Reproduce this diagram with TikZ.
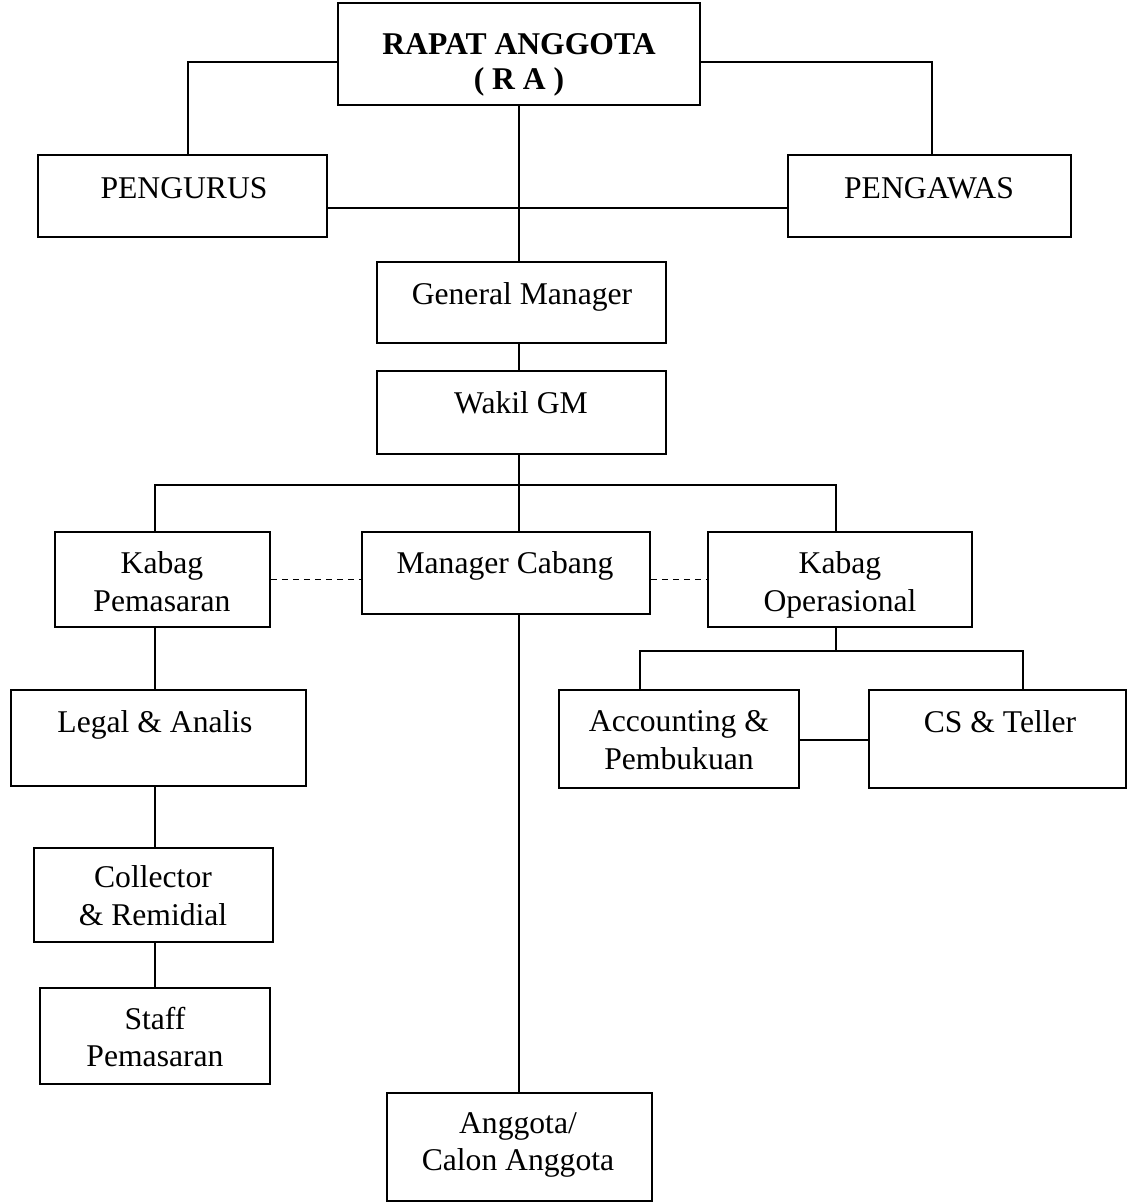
\documentclass[tikz,border=0pt]{standalone}
\usepackage{fontspec}
\setmainfont{Liberation Serif}
\usetikzlibrary{calc,fit,positioning}

\begin{document}
\begin{tikzpicture}[x=0.2mm,y=-0.2mm,line width=0.3mm,
                    box/.style={draw,inner sep=0pt},
                    txt/.style={align=center,inner sep=0pt,font=\fontsize{18}{21.5}\selectfont},
                    dashlink/.style={draw,dash pattern=on 1.3mm off 0.9mm}]

  \useasboundingbox (0,0) rectangle (1127,1202);

  % boxes
  \node[box,fit={(338,3) (700,105)}] (ra) {};
  \node[box,fit={(38,155) (327,237)}] (pengurus) {};
  \node[box,fit={(788,155) (1071,237)}] (pengawas) {};
  \node[box,fit={(377,262) (666,343)}] (gm) {};
  \node[box,fit={(377,371) (666,454)}] (wakil) {};
  \node[box,fit={(55,532) (270,627)}] (pemasaran) {};
  \node[box,fit={(362,532) (650,614)}] (cabang) {};
  \node[box,fit={(708,532) (972,627)}] (operasional) {};
  \node[box,fit={(11,690) (306,786)}] (legal) {};
  \node[box,fit={(559,690) (799,788)}] (accounting) {};
  \node[box,fit={(869,690) (1126,788)}] (teller) {};
  \node[box,fit={(34,848) (273,942)}] (collector) {};
  \node[box,fit={(40,988) (270,1084)}] (staff) {};
  \node[box,fit={(387,1093) (652,1201)}] (anggota) {};

  % texts
  \node[txt,font=\fontsize{18}{20}\selectfont\bfseries] (ra-t) at (519,65) {RAPAT ANGGOTA\\( R A )};
  \node[txt] (pengurus-t) at (184,188) {PENGURUS};
  \node[txt] (pengawas-t) at (929,188) {PENGAWAS};
  \node[txt] (gm-t) at (522,297) {General Manager};
  \node[txt] (wakil-t) at (521,403) {Wakil GM};
  \node[txt] (pemasaran-t) at (162,582) {Kabag\\Pemasaran};
  \node[txt] (cabang-t) at (505,566) {Manager Cabang};
  \node[txt] (operasional-t) at (840,585) {Kabag\\Operasional};
  \node[txt] (legal-t) at (155,725) {Legal \& Analis};
  \node[txt] (accounting-t) at (679,740) {Accounting \&\\Pembukuan};
  \node[txt] (teller-t) at (1000,722) {CS \& Teller};
  \node[txt] (collector-t) at (153,896) {Collector\\\& Remidial};
  \node[txt] (staff-t) at (155,1037) {Staff\\Pemasaran};
  \node[txt] (anggota-t) at (518,1145) {Anggota/\\Calon Anggota};

  % connectors
  \coordinate (ra-l) at ($(ra.west)+(0,8)$);
  \coordinate (ra-r) at ($(ra.east)+(0,8)$);
  \draw (ra-l) -| (pengurus.north -| 188,0);
  \draw (ra-r) -| (pengawas.north -| 932,0);
  \draw (ra.south -| 519,0) -- (gm.north -| 519,0);
  \draw ($(pengurus.east)+(0,12)$) -- ($(pengawas.west)+(0,12)$);
  \draw (gm.south -| 519,0) -- (wakil.north -| 519,0);

  \coordinate (split) at (519,485);
  \draw (wakil.south -| split) -- (split);
  \draw (pemasaran.north -| 155,0) |- (split) -| (operasional.north -| 836,0);
  \draw (split) -- (cabang.north -| split);
  \coordinate (dash-l) at (0,579.5);
  \draw[dashlink] (pemasaran.east |- dash-l) -- (cabang.west |- dash-l);
  \draw[dashlink] (cabang.east |- dash-l) -- (operasional.west |- dash-l);

  \draw (pemasaran.south -| 155,0) -- (legal.north -| 155,0);
  \draw (legal.south -| 155,0) -- (collector.north -| 155,0);
  \draw (collector.south -| 155,0) -- (staff.north -| 155,0);
  \draw (cabang.south -| 519,0) -- (anggota.north -| 519,0);

  \coordinate (split2) at (836,651);
  \draw (operasional.south -| split2) -- (split2);
  \draw (accounting.north -| 640,0) |- (split2) -| (teller.north -| 1023,0);
  \draw ($(accounting.east)+(0,1)$) -- ($(teller.west)+(0,1)$);

\end{tikzpicture}
\end{document}
